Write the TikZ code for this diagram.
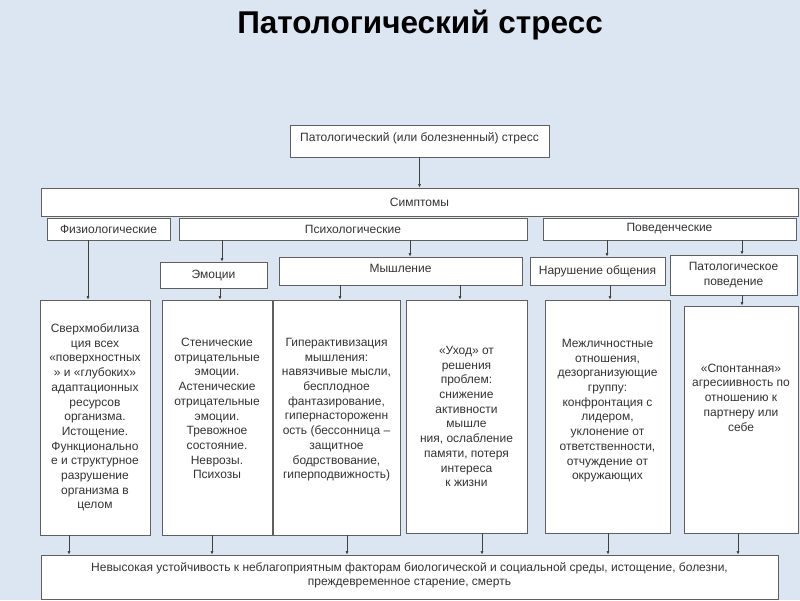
\documentclass[tikz,border=0pt]{standalone}
\usepackage{fontspec}
\setmainfont{Liberation Sans}
\usepackage{xcolor}
\usetikzlibrary{arrows.meta, positioning}

\definecolor{bgblue}{HTML}{DCE6F2}
\definecolor{boxline}{HTML}{5F5F5F}
\definecolor{arrowgray}{HTML}{404040}

\begin{document}
\begin{tikzpicture}[
    x=1pt, y=-1pt,
    every node/.style={font=\fontsize{12}{14.7}\selectfont, text=black!80},
    box/.style={
        draw=boxline,
        fill=white,
        line width=0.8pt,
        inner sep=0pt,
        align=center
    },
    spot/.style n args={4}{
        at={({(#1+#3)/2},{(#2+#4)/2})},
        minimum width={(#3-#1)*1pt},
        minimum height={(#4-#2)*1pt}
    },
    arrow/.style={-{Latex[length=3.5pt, width=3pt]}, draw=arrowgray, line width=0.6pt}
]

\fill[bgblue] (0,0) rectangle (800,600);
\useasboundingbox (0,0) rectangle (800,600);

\node[font=\fontsize{31.5}{34}\bfseries, text=black] (title) at (420,25) {Патологический стресс};

% top level
\node[box, spot={290}{125}{549}{157}, text depth=8pt] (stress) {Патологический (или болезненный) стресс};
\node[box, spot={41}{188}{798}{216}] (symptoms) {Симптомы};

% symptom groups
\node[box, spot={47}{218}{170}{240}] (physio) {Физиологические};
\node[box, spot={179}{218}{527}{240}] (psycho) {Психологические};
\node[box, spot={543}{218}{796}{240}] (behav) {Поведенческие};

% sub-groups
\node[box, spot={160}{262}{267}{288}] (emotion) {Эмоции};
\node[box, spot={279}{257}{522}{285}, text depth=5pt] (thinking) {Мышление};
\node[box, spot={530}{257}{665}{285}] (contact) {Нарушение общения};
\node[box, spot={670}{255}{797}{295}] (pathbeh) {Патологическое\\поведение};

% descriptions
\node[box, spot={40}{300}{150}{535}] (mobil) {Сверхмобилиза\\ция всех\\«поверхностных\\» и «глубоких»\\адаптационных\\ресурсов\\организма.\\Истощение.\\Функционально\\е и структурное\\разрушение\\организма в\\целом};
\node[box, spot={162}{300}{272}{535}, text depth=18pt] (negemo) {Стенические\\отрицательные\\эмоции.\\Астенические\\отрицательные\\эмоции.\\Тревожное\\состояние.\\Неврозы.\\Психозы};
\node[box, spot={273}{300}{400}{535}, text depth=18pt] (hyper) {Гиперактивизация\\мышления:\\навязчивые мысли,\\бесплодное\\фантазирование,\\гипернастороженн\\ость (бессонница –\\защитное\\бодрствование,\\гиперподвижность)};
\node[box, spot={406}{300}{527}{533}] (escape) {«Уход» от\\решения\\проблем:\\снижение\\активности\\мышле\\ния, ослабление\\памяти, потеря\\интереса\\к жизни};
\node[box, spot={545}{300}{670}{533}, text depth=14pt] (interp) {Межличностные\\отношения,\\дезорганизующие\\группу:\\конфронтация с\\лидером,\\уклонение от\\ответственности,\\отчуждение от\\окружающих};
\node[box, spot={684}{306}{798}{533}, text depth=44pt] (aggr) {«Спонтанная»\\агресиивность по\\отношению к\\партнеру или\\себе};

% outcome
\node[box, spot={41}{555}{778}{599}, text depth=6pt] (outcome) {Невысокая устойчивость к неблагоприятным факторам  биологической и социальной среды,  истощение, болезни,\\преждевременное старение, смерть};

\draw[arrow] (stress) -- (symptoms);
\draw[arrow] (physio.south -| 88,0) -- (mobil.north -| 88,0);
\draw[arrow] (psycho.south -| 222,0) -- (emotion.north -| 222,0);
\draw[arrow] (psycho.south -| 410,0) -- (thinking.north -| 410,0);
\draw[arrow] (behav.south -| 607,0) -- (contact.north -| 607,0);
\draw[arrow] (behav.south -| 742,0) -- (pathbeh.north -| 742,0);
\draw[arrow] (emotion.south -| 220,0) -- (negemo.north -| 220,0);
\draw[arrow] (thinking.south -| 340,0) -- (hyper.north -| 340,0);
\draw[arrow] (thinking.south -| 460,0) -- (escape.north -| 460,0);
\draw[arrow] (contact.south -| 610,0) -- (interp.north -| 610,0);
\draw[arrow] (pathbeh.south -| 742,0) -- (aggr.north -| 742,0);

\draw[arrow] (mobil.south -| 69,0) -- (outcome.north -| 69,0);
\draw[arrow] (negemo.south -| 212,0) -- (outcome.north -| 212,0);
\draw[arrow] (hyper.south -| 347,0) -- (outcome.north -| 347,0);
\draw[arrow] (escape.south -| 482,0) -- (outcome.north -| 482,0);
\draw[arrow] (interp.south -| 608,0) -- (outcome.north -| 608,0);
\draw[arrow] (aggr.south -| 738,0) -- (outcome.north -| 738,0);

\end{tikzpicture}
\end{document}
